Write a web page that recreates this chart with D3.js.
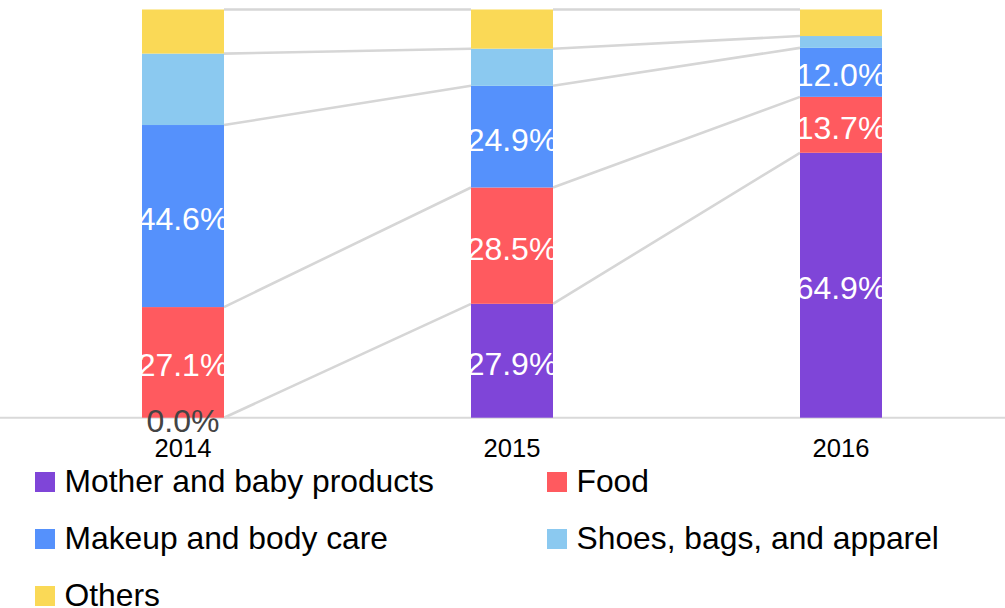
<!DOCTYPE html>
<html>
<head>
<meta charset="utf-8">
<script src="https://cdn.jsdelivr.net/npm/d3@7"></script>
<style>
  html, body { margin: 0; padding: 0; background: #fff; }
  svg { display: block; font-family: "Liberation Sans", Arial, sans-serif; }
</style>
</head>
<body>
<svg id="chart" width="1005" height="608"></svg>
<script>
const years = ["2014", "2015", "2016"];
const seriesNames = ["Mother and baby products", "Food", "Makeup and body care", "Shoes, bags, and apparel", "Others"];
const seriesColors = ["#7f45d8", "#ff5a5f", "#5591fc", "#8bc9f0", "#fad956"];
const motherBaby = [0.0, 27.9, 64.9];
const food = [27.1, 28.5, 13.7];
const makeup = [44.6, 24.9, 12.0];
const shoesBags = [17.5, 9.1, 2.9];
const others = [10.8, 9.6, 6.5];
const labelledSeries = [true, true, true, false, false];

const seriesValues = [motherBaby, food, makeup, shoesBags, others];

const svg = d3.select("#chart");
const W = 1005;

const x = d3.scalePoint().domain(years).range([18.5, 1005.5]).padding(0.5);
const y = d3.scaleLinear().domain([0, 100]).range([417.7, 9.5]);
const barW = 82;

const rows = years.map((yr, i) => {
  const r = { year: yr };
  seriesNames.forEach((s, k) => r[s] = seriesValues[k][i]);
  return r;
});
const stacked = d3.stack().keys(seriesNames)(rows);

// connectors between segment tops of neighbouring bars
const conn = svg.append("g");
for (let k = 0; k < stacked.length; k++) {
  for (let i = 0; i < years.length - 1; i++) {
    conn.append("line")
      .attr("x1", x(years[i]) + barW / 2)
      .attr("y1", y(stacked[k][i][1]))
      .attr("x2", x(years[i + 1]) - barW / 2)
      .attr("y2", y(stacked[k][i + 1][1]))
      .attr("stroke", "#d6d6d6")
      .attr("stroke-width", 2.6);
  }
}

// axis line
svg.append("line")
  .attr("x1", 0).attr("x2", W)
  .attr("y1", y(0)).attr("y2", y(0))
  .attr("stroke", "#d9d9d9").attr("stroke-width", 2);

// bars
stacked.forEach((layer, k) => {
  svg.append("g").selectAll("rect").data(layer).join("rect")
    .attr("x", (d, i) => x(years[i]) - barW / 2)
    .attr("width", barW)
    .attr("y", d => y(d[1]))
    .attr("height", d => y(d[0]) - y(d[1]))
    .attr("fill", seriesColors[k]);
});

// labels
stacked.forEach((layer, k) => {
  if (!labelledSeries[k]) return;
  svg.append("g").selectAll("text").data(layer).join("text")
    .attr("x", (d, i) => x(years[i]))
    .attr("y", d => (y(d[0]) + y(d[1])) / 2 + 14)
    .attr("text-anchor", "middle")
    .attr("font-size", 32)
    .attr("fill", d => (d[1] - d[0]) === 0 ? "#444444" : "#ffffff")
    .text(d => (d[1] - d[0]).toFixed(1) + "%");
});

// x axis labels
svg.append("g").selectAll("text").data(years).join("text")
  .attr("x", d => x(d))
  .attr("y", 457)
  .attr("text-anchor", "middle")
  .attr("font-size", 25.6)
  .attr("fill", "#000")
  .text(d => d);

// legend
const legend = svg.append("g");
seriesNames.forEach((s, k) => {
  const col = k % 2, row = Math.floor(k / 2);
  const lx = col === 0 ? 35 : 547;
  const ly = 472 + row * 57;
  legend.append("rect").attr("x", lx).attr("y", ly).attr("width", 20).attr("height", 20).attr("fill", seriesColors[k]);
  legend.append("text").attr("x", lx + 29.5).attr("y", ly + 20.3)
    .attr("font-size", 31.8).attr("fill", "#000").text(s);
});
</script>
</body>
</html>
